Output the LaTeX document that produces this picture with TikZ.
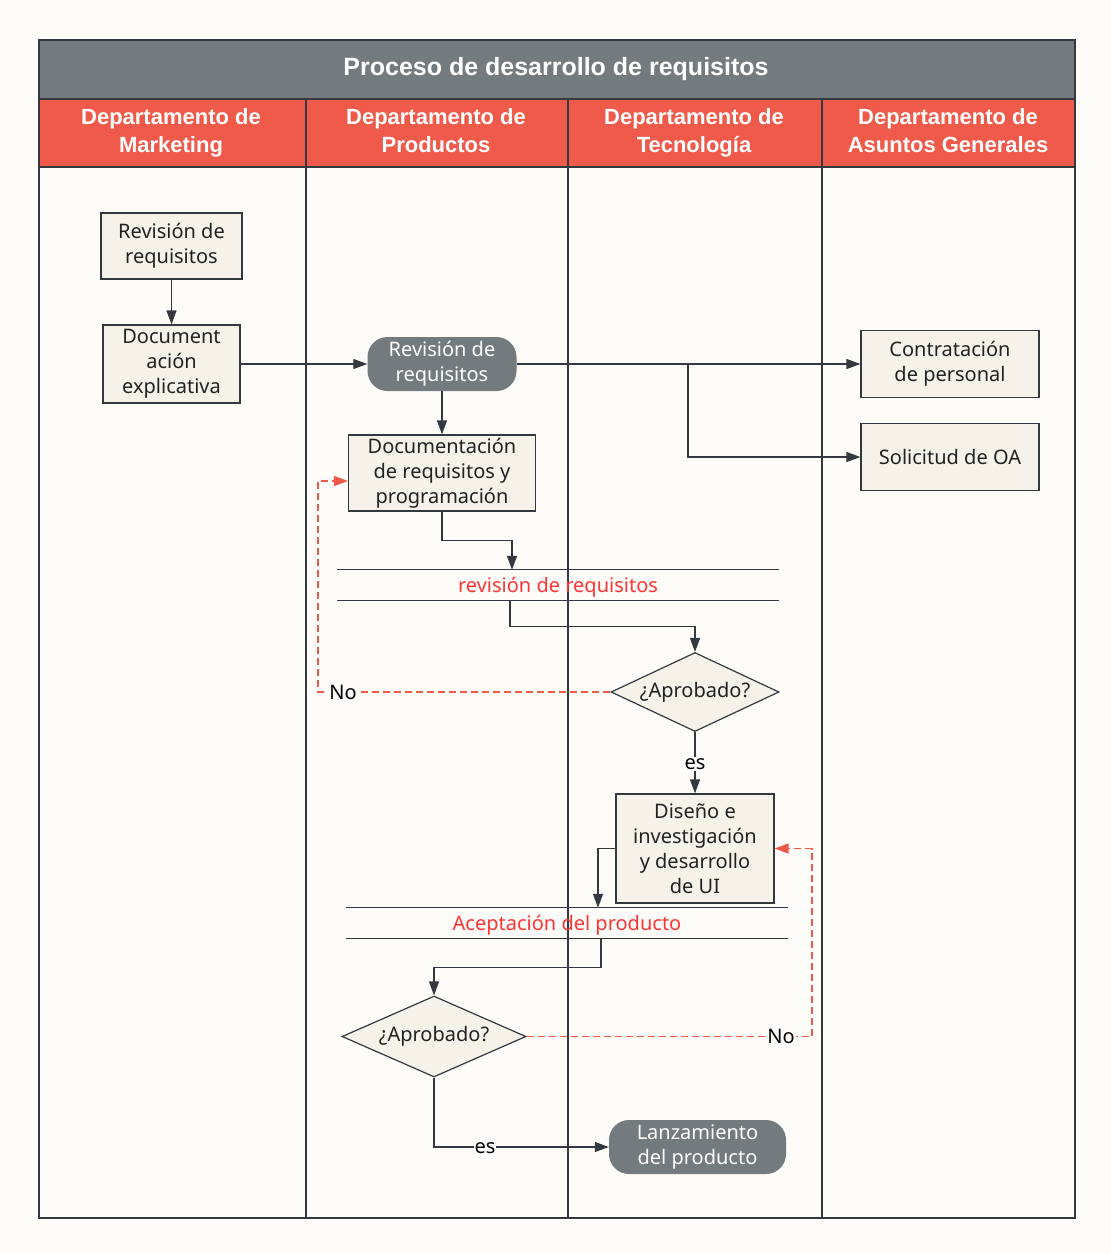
\documentclass[tikz,border=0pt]{standalone}
\usepackage{fontspec}
\setmainfont{Noto Sans}
\newfontfamily\hdfont{Liberation Sans}
\usetikzlibrary{shapes.geometric,arrows.meta}
\definecolor{bgc}{HTML}{FDFCF9}
\definecolor{boxfill}{HTML}{F5F2EA}
\definecolor{grayhd}{HTML}{737B7E}
\definecolor{redhd}{HTML}{EF5A4B}
\definecolor{linec}{HTML}{33393E}
\definecolor{redtxt}{HTML}{FF3535}
\definecolor{dashc}{HTML}{F0584A}
\definecolor{txtc}{HTML}{222222}
\begin{document}
\begin{tikzpicture}[x=1pt,y=-1pt,
  txt/.style={font=\fontsize{20}{25}\selectfont, align=center, text=txtc},
  procbox/.style={txt, draw=linec, line width=1.2pt, fill=boxfill, inner sep=0pt},
  term/.style={txt, fill=grayhd, text=white, rounded corners=20pt, inner sep=0pt},
  dec/.style={txt, diamond, draw=linec, line width=1.2pt, fill=boxfill, inner sep=0pt, aspect=2.1},
  conn/.style={draw=linec, line width=1.2pt, -{Triangle[length=14pt,width=10pt]}},
  noconn/.style={draw=dashc, line width=1.3pt, dash pattern=on 7pt off 4pt, -{Triangle[length=14pt,width=10pt]}},
  lbl/.style={txt, text=black, fill=bgc, inner sep=1pt},
  band/.style={txt, text=redtxt, minimum height=30pt, inner sep=0pt, text height=16pt, text depth=2pt},
  lane/.style={draw=linec, line width=1.4pt},
  hdtxt/.style={font=\hdfont\bfseries\fontsize{22}{27.5}\selectfont, text=white, align=center}
]
\useasboundingbox (0,0) rectangle (1111,1254);
\fill[bgc] (0,0) rectangle (1111,1254);
% header
\fill[grayhd] (39,40) rectangle (1075,99);
\fill[redhd] (39,99) rectangle (1075,167);
\node[font=\hdfont\bfseries\fontsize{25}{30}\selectfont, text=white] (title) at (556,69) {Proceso de desarrollo de requisitos};
\node[hdtxt] (h1) at (171,133) {Departamento de\strut\\Marketing\strut};
\node[hdtxt] (h2) at (436,133) {Departamento de\strut\\Productos\strut};
\node[hdtxt] (h3) at (694,133) {Departamento de\strut\\Tecnología\strut};
\node[hdtxt] (h4) at (948,133) {Departamento de\strut\\Asuntos Generales\strut};
\draw[lane] (39,99) -- (1075,99);
\draw[lane] (39,167) -- (1075,167);
\draw[lane] (306,99) -- (306,1218);
\draw[lane] (568,99) -- (568,1218);
\draw[lane] (822,99) -- (822,1218);
\draw[lane] (39,40) rectangle (1075,1218);

% nodes
\node[procbox, minimum width=141pt, minimum height=66pt] (A) at (171.5,246) {Revisión de\\requisitos};
\node[procbox, minimum width=137pt, minimum height=78pt] (B) at (171.5,364) {Document\\ación\\explicativa};
\node[term, minimum width=149pt, minimum height=54pt] (C) at (442,364) {Revisión de\\requisitos};
\node[procbox, minimum width=187pt, minimum height=76pt] (D) at (442,473) {Documentación\\de requisitos y\\programación};
\node[procbox, minimum width=178pt, minimum height=67pt] (E) at (950,364) {Contratación\\de personal};
\node[procbox, minimum width=178pt, minimum height=67pt] (F) at (950,457) {Solicitud de OA};
\node[band, minimum width=442pt] (S1) at (558,585) {revisión de requisitos};
\draw[lane, line width=1.2pt] (S1.north west) -- (S1.north east);
\draw[lane, line width=1.2pt] (S1.south west) -- (S1.south east);
\node[dec, minimum width=168pt, minimum height=79pt] (G) at (695,692) {¿Aprobado?};
\node[procbox, minimum width=158pt, minimum height=109pt] (H) at (695,848.5) {Diseño e\\investigación\\y desarrollo\\de UI};
\node[band, minimum width=442pt] (S2) at (567,923) {Aceptación del producto};
\draw[lane, line width=1.2pt] (S2.north west) -- (S2.north east);
\draw[lane, line width=1.2pt] (S2.south west) -- (S2.south east);
\node[dec, minimum width=184pt, minimum height=81pt] (I) at (434,1036.5) {¿Aprobado?};
\node[term, minimum width=177pt, minimum height=54pt] (J) at (697.5,1147) {Lanzamiento\\del producto};

% connectors
\draw[conn] (A) -- (B);
\draw[conn] (B) -- (C);
\draw[conn] (C) -- (E);
\coordinate (br) at (688,364);
\draw[conn] (br) |- (F);
\draw[conn] (C) -- (D);
\draw[conn] (D.south) -- ++(0,29) -| ([xshift=-46pt]S1.north);
\draw[conn] ([xshift=-48pt]S1.south) -- ++(0,26) -| (G.north);
\draw[noconn] (G.west) -- (318,692) |- ([yshift=-8pt]D.west);
\node[lbl] (no1) at (343,692) {No};
\draw[conn] (G.south) -- (H.north);
\node[lbl] (es1) at (695,764) {es};
\draw[conn] (H.west) -| ([xshift=31pt]S2.north);
\draw[conn] ([xshift=34pt]S2.south) -- ++(0,29) -| (I.north);
\draw[noconn] (I.east) -- (812,1036.5) |- (H.east);
\node[lbl] (no2) at (781,1036) {No};
\draw[conn] (I.south) |- (J.west);
\node[lbl] (es2) at (485,1148) {es};
\end{tikzpicture}
\end{document}
